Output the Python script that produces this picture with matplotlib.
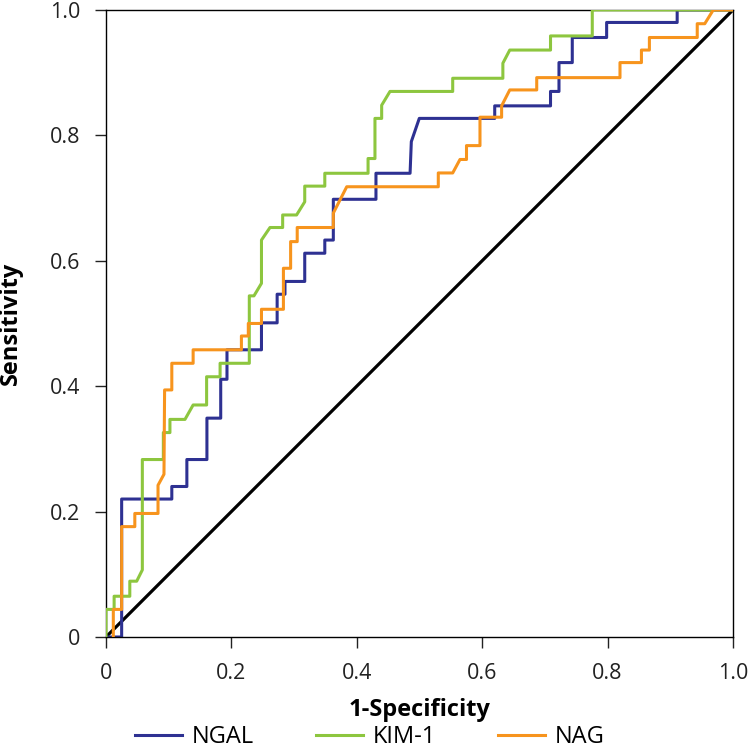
import matplotlib
matplotlib.use("Agg")
import matplotlib.pyplot as plt

plt.rcParams['font.family'] = ['Open Sans', 'DejaVu Sans']

# ROC curve vertices (1-specificity, sensitivity)
ngal_x = [0, 0.025, 0.025, 0.105, 0.105, 0.129, 0.129, 0.161, 0.161, 0.183, 0.183,
          0.193, 0.193, 0.248, 0.248, 0.273, 0.273, 0.2855, 0.2855, 0.317, 0.317,
          0.349, 0.349, 0.3626, 0.3626, 0.4306, 0.4306, 0.485, 0.487, 0.4997, 0.620,
          0.620, 0.709, 0.709, 0.7225, 0.7225, 0.7437, 0.7437, 0.7985, 0.7985, 0.911,
          0.911, 1.0]
ngal_y = [0, 0, 0.22, 0.22, 0.24, 0.24, 0.283, 0.283, 0.349, 0.349, 0.411,
          0.411, 0.458, 0.458, 0.501, 0.501, 0.5466, 0.5466, 0.567, 0.567, 0.612,
          0.612, 0.633, 0.633, 0.698, 0.698, 0.7395, 0.7395, 0.790, 0.827, 0.827,
          0.847, 0.847, 0.870, 0.870, 0.916, 0.916, 0.956, 0.956, 0.980, 0.980,
          1.0, 1.0]

kim_x = [0, 0, 0.013, 0.013, 0.038, 0.038, 0.049, 0.058, 0.058, 0.0915, 0.0915,
         0.102, 0.102, 0.126, 0.139, 0.1605, 0.1605, 0.182, 0.182, 0.2286, 0.2286,
         0.236, 0.248, 0.248, 0.2616, 0.2818, 0.2818, 0.304, 0.317, 0.317, 0.349,
         0.349, 0.418, 0.418, 0.429, 0.429, 0.4397, 0.4397, 0.453, 0.553, 0.553,
         0.633, 0.633, 0.644, 0.709, 0.709, 0.7756, 0.7756, 1.0]
kim_y = [0, 0.044, 0.044, 0.065, 0.065, 0.089, 0.089, 0.107, 0.283, 0.283, 0.326,
         0.326, 0.347, 0.347, 0.370, 0.370, 0.415, 0.415, 0.4365, 0.4365, 0.544,
         0.544, 0.564, 0.633, 0.653, 0.653, 0.673, 0.673, 0.694, 0.719, 0.719,
         0.7395, 0.7395, 0.763, 0.763, 0.827, 0.827, 0.848, 0.870, 0.870, 0.891,
         0.891, 0.915, 0.936, 0.936, 0.9585, 0.9585, 1.0, 1.0]

nag_x = [0.0117, 0.0117, 0.025, 0.025, 0.046, 0.046, 0.083, 0.083, 0.0925, 0.0935,
         0.105, 0.105, 0.139, 0.139, 0.216, 0.216, 0.227, 0.227, 0.248, 0.248,
         0.283, 0.283, 0.2945, 0.2945, 0.305, 0.305, 0.3626, 0.3626, 0.384, 0.530,
         0.530, 0.553, 0.5646, 0.575, 0.575, 0.5965, 0.5965, 0.631, 0.631, 0.644,
         0.687, 0.687, 0.8198, 0.8198, 0.854, 0.854, 0.8667, 0.8667, 0.943, 0.943,
         0.955, 0.9686, 1.0]
nag_y = [0, 0.044, 0.044, 0.176, 0.176, 0.197, 0.197, 0.242, 0.2595, 0.394,
         0.394, 0.4365, 0.4365, 0.458, 0.458, 0.48, 0.48, 0.50, 0.50, 0.5226,
         0.5226, 0.588, 0.588, 0.6305, 0.6305, 0.653, 0.653, 0.676, 0.718, 0.718,
         0.740, 0.740, 0.7615, 0.7615, 0.7836, 0.7836, 0.8289, 0.8289, 0.847, 0.8724,
         0.8724, 0.892, 0.892, 0.916, 0.916, 0.936, 0.936, 0.956, 0.956, 0.978,
         0.978, 1.0, 1.0]

ref_line = [0, 1]
ticks = [0, 0.2, 0.4, 0.6, 0.8, 1.0]
tick_labels = ['0', '0.2', '0.4', '0.6', '0.8', '1.0']

fig = plt.figure(figsize=(7.5, 7.51), dpi=100)
ax = fig.add_axes([0.1413, 0.1518, 0.836, 0.835])

ax.plot(ref_line, ref_line, color='black', lw=2.3, zorder=1)
l1, = ax.plot(ngal_x, ngal_y, color='#2E3192', lw=2.2, label='NGAL', zorder=2)
l2, = ax.plot(kim_x, kim_y, color='#8DC63F', lw=2.2, label='KIM-1', zorder=3)
l3, = ax.plot(nag_x, nag_y, color='#F7941D', lw=2.2, label='NAG', zorder=4)

ax.set_xlim(0, 1)
ax.set_ylim(0, 1)
ax.set_xticks(ticks)
ax.set_xticklabels(tick_labels)
ax.set_yticks(ticks)
ax.set_yticklabels(tick_labels)
ax.tick_params(direction='out', length=8, width=1, labelsize=15.5, colors='#222222',
               pad=10.5)
for s in ax.spines.values():
    s.set_linewidth(1)

ax.set_xlabel('1-Specificity', fontsize=17, fontweight='bold')
ax.set_ylabel('Sensitivity', fontsize=17, fontweight='bold')
ax.xaxis.set_label_coords(0.5, -0.098)
ax.yaxis.set_label_coords(-0.132, 0.5)

fig.legend(handles=[l1, l2, l3], loc='center left', bbox_to_anchor=(0.18, 0.018),
           ncol=3, frameon=False, fontsize=17, handlelength=2.0,
           handletextpad=0.42, columnspacing=2.6, borderpad=0, borderaxespad=0)

fig.savefig('out.png', dpi=100)
